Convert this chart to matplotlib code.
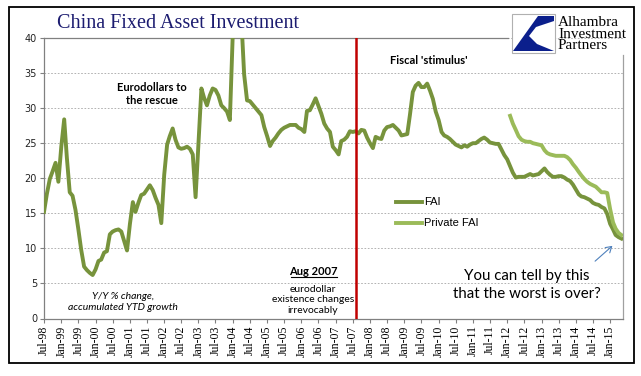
"""
China Fixed Asset Investment - Y/Y % (accumulated YTD), FAI vs Private FAI.
"""
import matplotlib
matplotlib.use("Agg")
import matplotlib.pyplot as plt
import matplotlib.patches as mpatches
from matplotlib.lines import Line2D
import pandas as pd

W, H = 641, 376

FAI_GREEN  = "#77933c"
PRIV_GREEN = "#9bbb59"
RED        = "#c00000"
NAVY       = "#1c1c70"
GRID       = "#a6a6a6"
LOGO_BLUE  = "#0b1f8c"

# monthly, Jul-98 .. May-15
fai = [
    15.2, 17.8, 19.9, 21.0, 22.2, 19.5,                                # 1998 H2
    24.5, 28.4, 23.0, 18.0, 17.5, 15.5, 12.8, 9.8, 7.4, 6.9, 6.5, 6.2,  # 1999
    7.0, 8.2, 8.4, 9.4, 9.6, 12.0, 12.4, 12.6, 12.7, 12.4, 11.0, 9.7,   # 2000
    13.5, 16.6, 15.2, 16.5, 17.6, 17.8, 18.4, 19.0, 18.3, 17.2, 16.2, 13.6,  # 2001
    20.5, 24.8, 26.0, 27.1, 25.5, 24.4, 24.2, 24.3, 24.5, 24.2, 23.4, 17.3,  # 2002
    25.0, 32.8, 31.5, 30.4, 31.8, 32.8, 32.6, 31.8, 30.4, 30.0, 29.5, 28.3,  # 2003
    40.5, 53.0, 47.8, 42.8, 34.8, 31.1, 31.0, 30.5, 30.0, 29.5, 29.0, 27.3,  # 2004
    26.0, 24.6, 25.3, 25.8, 26.4, 26.9, 27.2, 27.4, 27.6, 27.6, 27.6, 27.2,  # 2005
    27.0, 26.6, 29.6, 29.7, 30.5, 31.4, 30.3, 29.2, 27.8, 27.1, 26.6, 24.5,  # 2006
    24.0, 23.4, 25.3, 25.5, 25.9, 26.7, 26.6, 26.7, 26.4, 26.9, 26.8, 25.8,  # 2007
    25.0, 24.3, 25.9, 25.7, 25.6, 26.8, 27.3, 27.4, 27.6, 27.2, 26.8, 26.1,  # 2008
    26.2, 26.3, 29.0, 32.3, 33.2, 33.6, 33.0, 33.0, 33.5, 32.5, 31.3, 29.5,  # 2009
    28.3, 26.6, 26.1, 25.9, 25.6, 25.2, 24.8, 24.6, 24.4, 24.7, 24.5, 24.8,  # 2010
    25.0, 25.0, 25.3, 25.6, 25.8, 25.5, 25.1, 25.0, 24.9, 24.9, 24.1, 23.3,  # 2011
    22.7, 21.7, 20.8, 20.1, 20.2, 20.2, 20.2, 20.4, 20.6, 20.4, 20.5, 20.6,  # 2012
    21.0, 21.4, 20.9, 20.5, 20.2, 20.2, 20.3, 20.3, 20.1, 19.8, 19.6, 19.1,  # 2013
    18.4, 17.7, 17.4, 17.3, 17.1, 16.9, 16.5, 16.3, 16.2, 15.9, 15.7, 14.9,  # 2014
    13.5, 12.7, 11.9, 11.6, 11.4,                                      # 2015
]

# monthly, Feb-12 .. May-15
private_fai = [
    28.9, 27.8, 26.9, 26.0, 25.5, 25.3, 25.2, 25.2, 25.0, 24.9, 24.8,        # 2012
    24.7, 24.0, 23.6, 23.4, 23.3, 23.2, 23.2, 23.2, 23.2, 23.0, 22.6, 22.0,  # 2013
    21.5, 20.9, 20.4, 19.9, 19.5, 19.2, 19.0, 18.8, 18.4, 18.0, 18.0, 17.9,  # 2014
    15.6, 13.7, 12.8, 12.2, 11.9,                                            # 2015
]

dates = pd.date_range("1998-07-01", periods=len(fai), freq="MS")
priv_dates = dates[len(fai) - len(private_fai):]
tick_dates = pd.date_range("1998-07-01", "2015-01-01", freq="6MS")
y_ticks = [0, 5, 10, 15, 20, 25, 30, 35, 40]
event_date = pd.Timestamp("2007-08-01")


def px(x, y):
    return x / W, 1 - y / H


fig = plt.figure(figsize=(W / 100, H / 100), dpi=100)
fig.patch.set_facecolor("white")

# outer frame
fig.add_artist(mpatches.Rectangle(px(9, 363), 625 / W, 356 / H, transform=fig.transFigure,
                                  fill=False, edgecolor="black", linewidth=1.3))

left, right, top, bottom = 44, 623, 38, 318.5
ax = fig.add_axes([left / W, 1 - bottom / H, (right - left) / W, (bottom - top) / H])

ax.plot(dates, fai, color=FAI_GREEN, linewidth=2.8, solid_joinstyle="round", zorder=4)
ax.plot(priv_dates, private_fai, color=PRIV_GREEN, linewidth=2.8, solid_joinstyle="round", zorder=4)
ax.axvline(event_date, color=RED, linewidth=1.8, zorder=5)

ax.set_ylim(0, 40)
ax.set_xlim(dates[0], dates[-1] + pd.Timedelta(days=17))
ax.set_yticks(y_ticks)
ax.set_yticklabels([str(v) for v in y_ticks], fontsize=7, family="DejaVu Sans", color="#222222")
ax.set_xticks(tick_dates)
ax.set_xticklabels([d.strftime("%b-%y") for d in tick_dates], rotation=90,
                   fontsize=8.5, family="Liberation Serif")
ax.tick_params(axis="both", length=3, color="#808080", width=0.8, pad=2)
ax.grid(axis="y", color=GRID, linestyle=(0, (2, 2)), linewidth=0.6, zorder=0)

for s in ["top", "right"]:
    ax.spines[s].set_visible(False)
for s in ["left", "bottom"]:
    ax.spines[s].set_color("#808080")
    ax.spines[s].set_linewidth(0.9)
# top edge stops at the logo, right edge starts under it
ax.plot([0, (508 - left) / (right - left)], [1, 1], transform=ax.transAxes,
        color="#808080", linewidth=0.9, clip_on=False)
ax.plot([1, 1], [0, (bottom - 55) / (bottom - top)], transform=ax.transAxes,
        color="#a0a0a0", linewidth=0.9, clip_on=False)

# legend
for yy, col, lab in [(202, FAI_GREEN, "FAI"), (223, PRIV_GREEN, "Private FAI")]:
    fig.add_artist(Line2D([396 / W, 422 / W], [1 - yy / H] * 2, color=col, linewidth=2.8,
                          transform=fig.transFigure))
    fig.text(*px(424, yy), lab, fontsize=8, family="Liberation Sans", va="center", ha="left")

# title
fig.text(*px(178, 24), "China Fixed Asset Investment", fontsize=14.5, family="Liberation Serif",
         color=NAVY, ha="center", va="center")

# annotations
fig.text(*px(152, 94), "Eurodollars to\nthe rescue", fontsize=8, family="Lato", weight="bold",
         ha="center", va="center", linespacing=1.25)
fig.text(*px(429, 61), "Fiscal 'stimulus'", fontsize=8, family="Lato", weight="bold",
         ha="center", va="center")
fig.text(*px(123, 302), "Y/Y % change,\naccumulated YTD growth", fontsize=7.5, family="Lato",
         style="italic", ha="center", va="center", linespacing=1.25)
fig.text(*px(313.5, 271.5), "Aug 2007", fontsize=8, family="Lato", weight="bold",
         ha="center", va="center")
fig.add_artist(Line2D([291 / W, 336.5 / W], [1 - 277 / H] * 2, color="black", linewidth=0.8,
                      transform=fig.transFigure))
fig.text(*px(313, 300), "eurodollar\nexistence changes\nirrevocably", fontsize=7.5, family="Lato",
         ha="center", va="center", linespacing=1.2)
fig.text(*px(527, 285), "You can tell by this\nthat the worst is over?", fontsize=10.8,
         family="Lato", ha="center", va="center", linespacing=1.45)
fig.add_artist(mpatches.FancyArrowPatch(px(593, 263), px(614.5, 244), transform=fig.transFigure,
                                        arrowstyle="->,head_length=4,head_width=2.5",
                                        color="#4f81bd", linewidth=0.8))

# logo
fig.add_artist(mpatches.Rectangle(px(511.5, 52.5), 43.5 / W, 38.5 / H, transform=fig.transFigure,
                                  facecolor="white", edgecolor="#b0b0b0", linewidth=0.8, zorder=6))
logo_pts = [(538, 16), (554, 16), (554, 21), (536, 27), (529, 36), (537, 44), (554, 51), (513, 51)]
fig.add_artist(mpatches.Polygon([px(*p) for p in logo_pts], closed=True, transform=fig.transFigure,
                                facecolor=LOGO_BLUE, edgecolor="none", zorder=7))
fig.text(*px(558, 34), "Alhambra\nInvestment\nPartners", fontsize=11, family="Liberation Serif",
         ha="left", va="center", linespacing=0.85)

fig.savefig("out.png", dpi=100)
